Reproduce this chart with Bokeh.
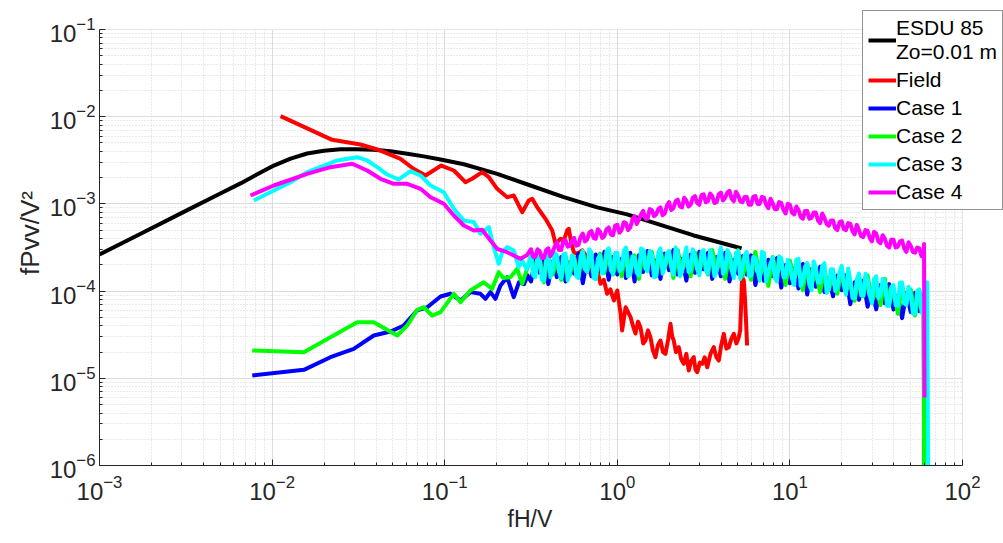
from bokeh.plotting import figure
from bokeh.models import Legend, LegendItem, FixedTicker, Range1d, BoxAnnotation, Title
from bokeh.embed import file_html
from bokeh.resources import INLINE

# ---------------- data (log10 of fH/V and of fPvv/V^2) ----------------
esdu_logf = [-3.0, -2.75, -2.5, -2.3, -2.183, -2.086, -1.990, -1.893, -1.797, -1.700, -1.604, -1.507,
             -1.411, -1.314, -1.217, -1.121, -1.024, -0.889, -0.696, -0.503, -0.310, -0.117, 0.057,
             0.250, 0.443, 0.675, 0.72]
esdu_logS = [-3.58, -3.33, -3.08, -2.88, -2.765, -2.66, -2.56, -2.48, -2.422, -2.39, -2.373, -2.372,
             -2.38, -2.397, -2.424, -2.455, -2.49, -2.545, -2.655, -2.789, -2.923, -3.04, -3.12,
             -3.24, -3.362, -3.485, -3.51]

field_logf = [-1.951, -1.652, -1.488, -1.372, -1.256, -1.181, -1.111, -1.02, -0.947, -0.880,
              -0.841, -0.783, -0.744, -0.696, -0.638, -0.600, -0.551, -0.513, -0.493, -0.464,
              -0.416, -0.377, -0.358, -0.329, -0.310, -0.290, -0.281, -0.268, -0.252, -0.232,
              -0.203, -0.175, -0.145, -0.117, -0.097, -0.078, -0.059, -0.040, -0.020, 0.000,
              0.019, 0.028, 0.048, 0.077, 0.091, 0.105, 0.120, 0.134, 0.150, 0.163,
              0.178, 0.192, 0.206, 0.221, 0.235, 0.250, 0.265, 0.279, 0.295, 0.308,
              0.318, 0.327, 0.340, 0.356, 0.370, 0.385, 0.400, 0.414, 0.428, 0.443,
              0.453, 0.463, 0.478, 0.492, 0.506, 0.521, 0.540, 0.559, 0.574, 0.588,
              0.602, 0.617, 0.632, 0.646, 0.660, 0.675, 0.690, 0.704, 0.712, 0.723,
              0.733, 0.740, 0.746, 0.752]
field_logS = [-1.994, -2.265, -2.319, -2.388, -2.483, -2.597, -2.674, -2.560, -2.617, -2.751,
              -2.712, -2.636, -2.694, -2.827, -2.923, -2.904, -3.095, -2.961, -2.942, -3.038,
              -3.171, -3.305, -3.458, -3.400, -3.420, -3.300, -3.286, -3.430, -3.554, -3.573,
              -3.534, -3.611, -3.700, -3.764, -3.916, -3.870, -4.031, -3.980, -4.108, -3.993,
              -4.257, -4.452, -4.185, -4.299, -4.400, -4.486, -4.350, -4.414, -4.600, -4.567,
              -4.450, -4.529, -4.680, -4.758, -4.620, -4.567, -4.700, -4.719, -4.550, -4.375,
              -4.520, -4.567, -4.700, -4.643, -4.780, -4.834, -4.720, -4.911, -4.800, -4.758,
              -4.900, -4.930, -4.820, -4.834, -4.760, -4.873, -4.720, -4.643, -4.760, -4.796,
              -4.620, -4.490, -4.660, -4.643, -4.550, -4.490, -4.600, -4.529, -4.450, -3.841,
              -3.878, -4.100, -4.350, -4.624]

# low-frequency parts of the four wind-tunnel cases
case1_low_logf = [-2.115, -1.816, -1.662, -1.527, -1.411, -1.314, -1.237, -1.159, -1.101, -1.024,
                  -0.966, -0.908, -0.851, -0.793, -0.764, -0.735, -0.706, -0.677, -0.638, -0.600,
                  -0.570, -0.540, -0.520]
case1_low_logS = [-4.968, -4.903, -4.758, -4.662, -4.509, -4.463, -4.394, -4.222, -4.185, -4.062,
                  -4.031, -4.108, -4.012, -4.031, -4.088, -4.012, -4.088, -3.936, -3.841, -4.070,
                  -3.900, -3.920, -3.820]
case2_low_logf = [-2.115, -1.816, -1.507, -1.411, -1.275, -1.217, -1.159, -1.121, -1.073, -1.024,
                  -0.947, -0.908, -0.851, -0.774, -0.725, -0.687, -0.660, -0.619, -0.580, -0.551,
                  -0.525]
case2_low_logS = [-4.681, -4.700, -4.357, -4.357, -4.509, -4.394, -4.214, -4.185, -4.280, -4.242,
                  -4.031, -4.127, -3.993, -3.898, -3.974, -3.783, -3.850, -3.841, -3.745, -3.916,
                  -3.760]
case3_low_logf = [-2.106, -1.990, -1.893, -1.797, -1.700, -1.623, -1.507, -1.449, -1.391, -1.333,
                  -1.266, -1.198, -1.140, -1.082, -1.005, -0.947, -0.889, -0.831, -0.793, -0.744,
                  -0.716, -0.687, -0.667, -0.638, -0.600, -0.571, -0.551, -0.525]
case3_low_logS = [-2.961, -2.846, -2.751, -2.636, -2.560, -2.502, -2.464, -2.502, -2.579, -2.663,
                  -2.720, -2.625, -2.674, -2.789, -2.866, -3.056, -3.190, -3.209, -3.343, -3.267,
                  -3.496, -3.687, -3.554, -3.496, -3.534, -3.726, -3.649, -3.750]
case4_low_logf = [-2.125, -1.990, -1.797, -1.662, -1.536, -1.449, -1.372, -1.295, -1.217, -1.140,
                  -1.082, -1.005, -0.947, -0.889, -0.831, -0.783, -0.735, -0.696, -0.638, -0.561,
                  -0.525]
case4_low_logS = [-2.904, -2.789, -2.655, -2.579, -2.540, -2.617, -2.712, -2.770, -2.770, -2.827,
                  -2.923, -2.999, -3.133, -3.248, -3.305, -3.297, -3.420, -3.515, -3.554, -3.630,
                  -3.590]

# noisy high-frequency parts, sampled on a common frequency list (log10)
band_logf = [-0.500, -0.475, -0.450, -0.425, -0.400, -0.375, -0.350, -0.325, -0.300, -0.275,
             -0.250, -0.225, -0.200, -0.175, -0.150, -0.125, -0.100, -0.075, -0.050, -0.025,
             0.000, 0.025, 0.050, 0.075, 0.100, 0.125, 0.150, 0.175, 0.200, 0.225,
             0.250, 0.275, 0.300, 0.325, 0.350, 0.375, 0.400, 0.425, 0.450, 0.475,
             0.500, 0.525, 0.550, 0.575, 0.600, 0.625, 0.650, 0.675, 0.700, 0.725,
             0.750, 0.775, 0.800, 0.825, 0.850, 0.875, 0.900, 0.925, 0.950, 0.975,
             1.000, 1.025, 1.050, 1.075, 1.100, 1.125, 1.150, 1.175, 1.200, 1.225,
             1.250, 1.275, 1.300, 1.325, 1.350, 1.375, 1.400, 1.425, 1.450, 1.475,
             1.500, 1.525, 1.550, 1.575, 1.600, 1.625, 1.650, 1.675, 1.700, 1.725,
             1.750, 1.775]
# in-between frequencies where Case 3 and Case 4 are also read
band_mid_logf = [-0.4875, -0.4625, -0.4375, -0.4125, -0.3875, -0.3625, -0.3375, -0.3125, -0.2875, -0.2625,
                 -0.2375, -0.2125, -0.1875, -0.1625, -0.1375, -0.1125, -0.0875, -0.0625, -0.0375, -0.0125,
                 0.0125, 0.0375, 0.0625, 0.0875, 0.1125, 0.1375, 0.1625, 0.1875, 0.2125, 0.2375,
                 0.2625, 0.2875, 0.3125, 0.3375, 0.3625, 0.3875, 0.4125, 0.4375, 0.4625, 0.4875,
                 0.5125, 0.5375, 0.5625, 0.5875, 0.6125, 0.6375, 0.6625, 0.6875, 0.7125, 0.7375,
                 0.7625, 0.7875, 0.8125, 0.8375, 0.8625, 0.8875, 0.9125, 0.9375, 0.9625, 0.9875,
                 1.0125, 1.0375, 1.0625, 1.0875, 1.1125, 1.1375, 1.1625, 1.1875, 1.2125, 1.2375,
                 1.2625, 1.2875, 1.3125, 1.3375, 1.3625, 1.3875, 1.4125, 1.4375, 1.4625, 1.4875,
                 1.5125, 1.5375, 1.5625, 1.5875, 1.6125, 1.6375, 1.6625, 1.6875, 1.7125, 1.7375,
                 1.7625]

case1_band_logS = [-3.89, -3.64, -3.79, -3.60, -3.92, -3.66, -3.84, -3.61, -3.89, -3.67,
                   -3.80, -3.57, -3.91, -3.65, -3.83, -3.58, -3.77, -3.55, -3.87, -3.61,
                   -3.81, -3.63, -3.85, -3.56, -3.89, -3.59, -3.78, -3.54, -3.82, -3.65,
                   -3.86, -3.57, -3.76, -3.53, -3.81, -3.63, -3.88, -3.58, -3.79, -3.55,
                   -3.75, -3.56, -3.86, -3.61, -3.83, -3.56, -3.89, -3.64, -3.80, -3.60,
                   -3.81, -3.59, -3.93, -3.69, -3.88, -3.64, -3.83, -3.62, -3.96, -3.70,
                   -3.91, -3.74, -3.97, -3.69, -4.04, -3.75, -3.95, -3.72, -4.01, -3.85,
                   -4.06, -3.82, -3.99, -3.82, -4.15, -3.90, -4.10, -3.88, -4.18, -3.98,
                   -4.21, -3.93, -4.14, -3.92, -4.21, -4.05, -4.31, -4.02, -4.24, -4.02,
                   -4.23, -4.05]
case2_band_logS = [-3.60, -3.79, -3.62, -3.90, -3.58, -3.81, -3.66, -3.87, -3.60, -3.82,
                   -3.61, -3.84, -3.55, -3.77, -3.66, -3.86, -3.57, -3.79, -3.52, -3.81,
                   -3.64, -3.83, -3.51, -3.79, -3.59, -3.86, -3.53, -3.72, -3.55, -3.83,
                   -3.54, -3.73, -3.57, -3.85, -3.53, -3.76, -3.62, -3.83, -3.56, -3.79,
                   -3.58, -3.81, -3.53, -3.76, -3.65, -3.86, -3.57, -3.79, -3.53, -3.83,
                   -3.67, -3.87, -3.55, -3.84, -3.66, -3.94, -3.61, -3.81, -3.65, -3.93,
                   -3.65, -3.85, -3.70, -3.99, -3.68, -3.92, -3.79, -4.01, -3.75, -3.99,
                   -3.79, -4.03, -3.75, -4.00, -3.90, -4.11, -3.83, -4.06, -3.82, -4.12,
                   -3.96, -4.16, -3.86, -4.15, -3.97, -4.26, -3.94, -4.14, -3.98, -4.28,
                   -4.00, -4.20]
case3_band_logS = [-3.58, -3.84, -3.63, -3.88, -3.55, -3.76, -3.59, -3.85, -3.57, -3.78,
                   -3.63, -3.85, -3.54, -3.78, -3.56, -3.86, -3.59, -3.75, -3.51, -3.80,
                   -3.56, -3.75, -3.50, -3.81, -3.62, -3.82, -3.53, -3.77, -3.58, -3.83,
                   -3.51, -3.72, -3.54, -3.81, -3.56, -3.78, -3.50, -3.75, -3.61, -3.82,
                   -3.53, -3.80, -3.60, -3.78, -3.50, -3.76, -3.58, -3.85, -3.54, -3.74,
                   -3.55, -3.82, -3.62, -3.88, -3.56, -3.78, -3.62, -3.89, -3.62, -3.84,
                   -3.70, -3.93, -3.63, -3.89, -3.68, -3.99, -3.73, -3.90, -3.68, -3.98,
                   -3.75, -3.95, -3.71, -4.04, -3.87, -4.08, -3.80, -4.05, -3.88, -4.14,
                   -3.83, -4.05, -3.89, -4.17, -3.93, -4.17, -3.90, -4.16, -4.03, -4.26,
                   -3.98, -4.26]
case3_mid_logS = [-3.82, -3.59, -3.87, -3.64, -3.84, -3.56, -3.78, -3.58, -3.88, -3.59,
                  -3.83, -3.60, -3.75, -3.52, -3.85, -3.63, -3.80, -3.54, -3.76, -3.56,
                  -3.77, -3.54, -3.83, -3.60, -3.79, -3.51, -3.74, -3.54, -3.84, -3.56,
                  -3.80, -3.57, -3.72, -3.50, -3.83, -3.61, -3.78, -3.52, -3.75, -3.55,
                  -3.76, -3.53, -3.83, -3.60, -3.80, -3.53, -3.76, -3.56, -3.86, -3.59,
                  -3.83, -3.61, -3.76, -3.55, -3.89, -3.68, -3.85, -3.60, -3.84, -3.64,
                  -3.86, -3.64, -3.94, -3.72, -3.93, -3.66, -3.90, -3.71, -4.02, -3.75,
                  -4.00, -3.78, -3.94, -3.74, -4.08, -3.87, -4.05, -3.80, -4.05, -3.86,
                  -4.08, -3.86, -4.17, -3.95, -4.16, -3.90, -4.14, -3.95, -4.26, -4.00,
                  -4.25]
case4_band_logS = [-3.52, -3.61, -3.54, -3.62, -3.51, -3.55, -3.44, -3.53, -3.42, -3.48,
                   -3.39, -3.47, -3.34, -3.41, -3.31, -3.40, -3.32, -3.37, -3.27, -3.36,
                   -3.24, -3.30, -3.22, -3.27, -3.14, -3.18, -3.08, -3.17, -3.07, -3.12,
                   -3.04, -3.11, -2.98, -3.05, -2.95, -3.04, -2.96, -3.01, -2.91, -3.01,
                   -2.89, -2.97, -2.91, -2.98, -2.87, -2.93, -2.85, -2.97, -2.90, -2.98,
                   -2.92, -3.01, -2.91, -3.00, -2.93, -3.05, -2.99, -3.06, -2.99, -3.11,
                   -3.01, -3.12, -3.07, -3.17, -3.08, -3.16, -3.10, -3.22, -3.16, -3.25,
                   -3.19, -3.30, -3.20, -3.30, -3.23, -3.35, -3.30, -3.38, -3.31, -3.43,
                   -3.34, -3.45, -3.40, -3.50, -3.41, -3.49, -3.42, -3.55, -3.48, -3.56,
                   -3.51, -3.61]
case4_mid_logS = [-3.61, -3.52, -3.62, -3.53, -3.60, -3.49, -3.53, -3.42, -3.49, -3.42,
                  -3.48, -3.38, -3.43, -3.33, -3.39, -3.29, -3.39, -3.29, -3.35, -3.25,
                  -3.33, -3.21, -3.30, -3.18, -3.23, -3.12, -3.17, -3.06, -3.14, -3.06,
                  -3.13, -3.02, -3.07, -2.97, -3.03, -2.93, -3.03, -2.93, -2.99, -2.90,
                  -2.98, -2.88, -2.99, -2.89, -2.96, -2.87, -2.94, -2.86, -2.97, -2.92,
                  -3.01, -2.92, -3.00, -2.92, -3.01, -2.94, -3.06, -2.98, -3.07, -3.00,
                  -3.10, -3.03, -3.15, -3.08, -3.17, -3.10, -3.19, -3.11, -3.23, -3.19,
                  -3.28, -3.21, -3.29, -3.22, -3.31, -3.24, -3.37, -3.30, -3.39, -3.32,
                  -3.43, -3.36, -3.48, -3.41, -3.50, -3.43, -3.51, -3.44, -3.55, -3.50,
                  -3.60]

# final cut-off of each case (drop at the highest frequencies)
case1_tail_logf, case1_tail_logS = [1.779], [-7.0]
case2_tail_logf, case2_tail_logS = [1.779], [-7.0]
case3_tail_logf, case3_tail_logS = [1.796, 1.803], [-3.90, -7.0]
case4_tail_logf, case4_tail_logS = [1.777, 1.780], [-3.46, -5.22]

labels = ["ESDU 85\nZo=0.01 m", "Field", "Case 1", "Case 2", "Case 3", "Case 4"]
colors = ["#000000", "#ff0000", "#0000ff", "#00ff00", "#00ffff", "#ff00ff"]

x_ticks = [1e-3, 1e-2, 1e-1, 1e0, 1e1, 1e2]
y_ticks = [1e-6, 1e-5, 1e-4, 1e-3, 1e-2, 1e-1]


def lin(vals):
    return [10.0 ** v for v in vals]


def merged(xa, ya, xb, yb):
    pairs = sorted(zip(xa + xb, ya + yb))
    return [a for a, _ in pairs], [b for _, b in pairs]


c3_bx, c3_by = merged(band_logf, case3_band_logS, band_mid_logf, case3_mid_logS)
c4_bx, c4_by = merged(band_logf, case4_band_logS, band_mid_logf, case4_mid_logS)

series = [
    (esdu_logf, esdu_logS),
    (field_logf, field_logS),
    (case1_low_logf + band_logf + case1_tail_logf, case1_low_logS + case1_band_logS + case1_tail_logS),
    (case2_low_logf + band_logf + case2_tail_logf, case2_low_logS + case2_band_logS + case2_tail_logS),
    (case3_low_logf + c3_bx + case3_tail_logf, case3_low_logS + c3_by + case3_tail_logS),
    (case4_low_logf + c4_bx + case4_tail_logf, case4_low_logS + c4_by + case4_tail_logS),
]

FONT = "Liberation Sans"
INK = "#262626"

# frame spans the whole right/top margin so that the legend (which sticks out
# past the axes, as in the original) is not clipped; axes are bounded instead.
X_END = 10 ** 2.2375
Y_TOP = 10 ** -0.6674

p = figure(width=1003, height=543, x_axis_type="log", y_axis_type="log",
           x_range=Range1d(1e-3, X_END), y_range=Range1d(1e-6, Y_TOP),
           output_backend="svg", toolbar_location=None,
           min_border_left=99, min_border_right=0, min_border_top=0, min_border_bottom=78)
p.outline_line_color = None
p.background_fill_color = "white"
p.border_fill_color = "white"

# ticks / grid
minor_x = [k * 10.0 ** e for e in range(-3, 2) for k in range(2, 10)]
minor_y = [k * 10.0 ** e for e in range(-6, -1) for k in range(2, 10)]
xt = FixedTicker(ticks=x_ticks, minor_ticks=minor_x)
yt = FixedTicker(ticks=y_ticks, minor_ticks=minor_y)
p.xaxis.ticker = xt
p.yaxis.ticker = yt
p.xgrid.ticker = xt
p.ygrid.ticker = yt
p.xaxis.bounds = (1e-3, 1e2)
p.yaxis.bounds = (1e-6, 1e-1)

for g in (p.xgrid, p.ygrid):
    g.grid_line_color = "#dcdcdc"
    g.grid_line_width = 1
    g.minor_grid_line_color = "#d4d4d4"
    g.minor_grid_line_dash = "1 2"

# blank out the grid outside the axes box (right and top margins)
p.add_layout(BoxAnnotation(left=1e2 * 1.004, fill_color="white", fill_alpha=1.0,
                           line_color=None, level="underlay"))
p.add_layout(BoxAnnotation(bottom=1e-1 * 1.006, fill_color="white", fill_alpha=1.0,
                           line_color=None, level="underlay"))

renderers = []
for (lf, ls), col in zip(series, colors):
    r = p.line(lin(lf), lin(ls), line_color=col, line_width=4, line_join="round")
    renderers.append(r)

for ax in (p.xaxis, p.yaxis):
    ax.axis_line_color = INK
    ax.axis_line_width = 1
    ax.major_tick_line_color = INK
    ax.minor_tick_line_color = INK
    ax.major_tick_in = 6
    ax.major_tick_out = 0
    ax.minor_tick_in = 3
    ax.minor_tick_out = 0
    ax.major_label_text_font = FONT
    ax.major_label_text_font_size = "24px"
    ax.major_label_text_color = INK
    ax.axis_label_text_font = FONT
    ax.axis_label_text_font_style = "normal"
    ax.axis_label_text_color = INK

p.yaxis.axis_label = "fPvv/V²"
p.yaxis.axis_label_text_font_size = "26px"
p.xaxis.major_label_standoff = 9
p.yaxis.major_label_standoff = 4
p.yaxis.axis_label_standoff = 2

# x-axis title, centred under the axes box (not under the widened frame)
x_title = Title(text="fH/V", align="left", offset=408, standoff=2,
                text_font=FONT, text_font_size="23px", text_font_style="normal",
                text_color=INK)
p.add_layout(x_title, "below")

items = [LegendItem(label=lab, renderers=[r]) for lab, r in zip(labels, renderers)]
legend = Legend(items=items, location=(763, 255))
legend.label_text_font = FONT
legend.label_text_font_size = "21px"
legend.label_text_color = "black"
legend.glyph_width = 28
legend.glyph_height = 20
legend.label_standoff = 0
legend.padding = 5
legend.spacing = 4
legend.margin = 0
legend.border_line_color = INK
legend.border_line_width = 1
legend.background_fill_color = "white"
legend.background_fill_alpha = 1.0
p.add_layout(legend)

open("out.html", "w").write(file_html(p, INLINE))
